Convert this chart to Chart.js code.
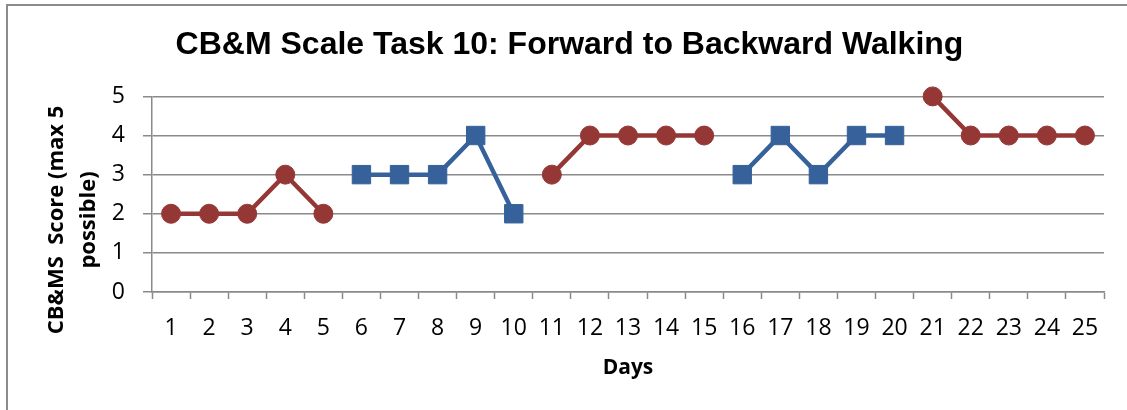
<!DOCTYPE html>
<html><head><meta charset="utf-8">
<script src="https://cdn.jsdelivr.net/npm/chart.js@4.4.1/dist/chart.umd.min.js"></script>
<style>
html,body{margin:0;padding:0;background:#fff;}
#wrap{position:relative;width:1127px;height:410px;overflow:hidden;background:#fff;}
#frame{position:absolute;left:6px;top:4px;width:1300px;height:600px;border:2px solid #8c8c8c;box-sizing:border-box;}
canvas{position:absolute;left:0;top:0;}
</style></head><body>
<div id="wrap"><div id="frame"></div><canvas id="c" width="1127" height="410"></canvas></div>
<script>
const chartTitle = 'CB&M Scale Task 10: Forward to Backward Walking';
const xTitle = 'Days';
const yTitleLines = ['CB&MS  Score (max 5', 'possible)'];
const days = ['1','2','3','4','5','6','7','8','9','10','11','12','13','14','15','16','17','18','19','20','21','22','23','24','25'];
const redScores = [2,2,2,3,2, null,null,null,null,null, 3,4,4,4,4, null,null,null,null,null, 5,4,4,4,4];
const blueScores = [null,null,null,null,null, 3,3,3,4,2, null,null,null,null,null, 3,4,3,4,4, null,null,null,null,null];
const yTicks = [0,1,2,3,4,5];

const RED = '#953735';
const BLUE = '#36619A';
const GRID = '#8a8a8a';
const FONT = '"Open Sans", "DejaVu Sans", sans-serif';

const yTitlePlugin = {
  id: 'yTitle',
  afterDraw(chart) {
    const ctx = chart.ctx;
    ctx.save();
    ctx.fillStyle = '#000';
    ctx.font = 'bold 22px ' + FONT;
    ctx.textAlign = 'center';
    ctx.textBaseline = 'middle';
    const xs = [57, 89];
    yTitleLines.forEach((t, i) => {
      ctx.save();
      ctx.translate(xs[i], 220);
      ctx.rotate(-Math.PI / 2);
      ctx.fillText(t, 0, 0);
      ctx.restore();
    });
    ctx.restore();
  }
};

function build() {
  new Chart(document.getElementById('c'), {
    type: 'line',
    data: {
      labels: days,
      datasets: [
        { data: redScores, borderColor: RED, backgroundColor: RED, pointBackgroundColor: RED, pointBorderColor: RED,
          borderWidth: 4.5, pointStyle: 'circle', pointRadius: 9.5, pointBorderWidth: 1, spanGaps: false, clip: false, tension: 0 },
        { data: blueScores, borderColor: BLUE, backgroundColor: BLUE, pointBackgroundColor: BLUE, pointBorderColor: BLUE,
          borderWidth: 4.5, pointStyle: 'rect', pointRadius: 13, pointBorderWidth: 1, spanGaps: false, clip: false, tension: 0 }
      ]
    },
    options: {
      responsive: false,
      animation: false,
      events: [],
      layout: { padding: { left: 35, right: 23, top: 0, bottom: 0 } },
      plugins: {
        legend: { display: false },
        tooltip: { enabled: false },
        title: {
          display: true, text: chartTitle, color: '#000',
          font: { family: '"Liberation Sans", Arial, sans-serif', size: 32, weight: 'bold', lineHeight: 1.2 },
          padding: { top: 26, bottom: 32 }
        }
      },
      scales: {
        x: {
          type: 'category',
          offset: true,
          grid: { display: true, offset: true, drawOnChartArea: false, drawTicks: true, tickLength: 7, tickColor: GRID, tickWidth: 1.5, color: GRID },
          border: { display: true, color: GRID, width: 1.5 },
          ticks: { color: '#000', font: { family: FONT, size: 23 }, padding: 16, maxRotation: 0, autoSkip: false },
          title: { display: true, text: xTitle, color: '#000', font: { family: FONT, size: 21, weight: 'bold', lineHeight: 1.2 }, padding: { top: 0, bottom: 29 } },
          afterFit(s) { s.height = 118; }
        },
        y: {
          min: 0, max: 5,
          afterBuildTicks(s) { s.ticks = yTicks.map(v => ({ value: v })); },
          grid: { display: true, drawOnChartArea: true, drawTicks: true, tickLength: 9, color: GRID, tickColor: GRID, lineWidth: 1.5, tickWidth: 1.5 },
          border: { display: true, color: GRID, width: 1.5 },
          ticks: { color: '#000', font: { family: FONT, size: 23 }, padding: 18 },
          afterFit(s) { s.width = 117; }
        }
      }
    },
    plugins: [yTitlePlugin]
  });
}
if (document.fonts && document.fonts.load) {
  Promise.all([
    document.fonts.load('23px "Open Sans"'),
    document.fonts.load('bold 22px "Open Sans"'),
    document.fonts.load('bold 32px "Liberation Sans"')
  ]).then(build, build);
} else { build(); }
</script>
</body></html>
